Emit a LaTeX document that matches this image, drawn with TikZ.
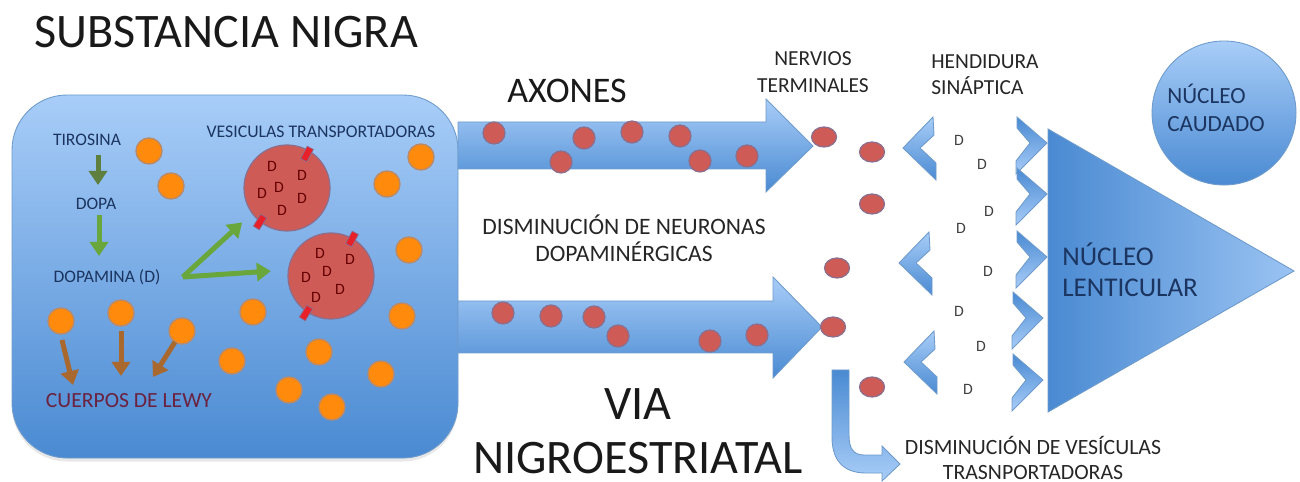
\documentclass[tikz,border=0pt]{standalone}
\usepackage{fontspec}
\setmainfont{Carlito}
\usetikzlibrary{arrows.meta,shadows,shapes.geometric}
\definecolor{bluelight}{HTML}{A8CDF8}
\definecolor{bluedark}{HTML}{4A8AD2}
\definecolor{blueline}{HTML}{6E9BCB}
\definecolor{navytext}{HTML}{1B3560}
\definecolor{dotred}{HTML}{CF5B56}
\definecolor{dotrim}{HTML}{8A6F8E}
\definecolor{dotorange}{HTML}{FF8A0C}
\definecolor{orangerim}{HTML}{B98A6A}
\definecolor{greendark}{HTML}{5F7F3F}
\definecolor{greenmid}{HTML}{69A63C}
\definecolor{brownline}{HTML}{A8682E}
\definecolor{tagred}{HTML}{E8202A}
\tikzset{
    bluefill/.style={top color=bluelight,bottom color=bluedark,draw=blueline,line width=0.5pt},
    bluefilldown/.style={top color=bluedark,bottom color=bluelight,draw=blueline,line width=0.5pt},
    orangedot/.style={circle,fill=dotorange,draw=orangerim,line width=0.8pt,minimum size=26*0.02cm,inner sep=0},
    reddot/.style={circle,fill=dotred,draw=dotrim,line width=0.7pt,minimum size=22*0.02cm,inner sep=0},
    redoval/.style={ellipse,fill=dotred,draw=dotrim,line width=0.7pt,minimum width=25*0.02cm,minimum height=20*0.02cm,inner sep=0},
    vesicle/.style={circle,fill=dotred,draw=dotrim,line width=0.7pt,minimum size=86*0.02cm,inner sep=0},
    redtag/.style={rectangle,fill=tagred,draw=dotrim,line width=0.4pt,minimum width=14*0.02cm,minimum height=7*0.02cm,inner sep=0},
    dmark/.style={font=\fontsize{9}{10}\selectfont,text=red!40!black,inner sep=0},
    dgrey/.style={font=\fontsize{9}{10}\selectfont,text=black!75,inner sep=0},
    boxlabel/.style={text=navytext,inner sep=0,align=center,font=\fontsize{10}{12}\selectfont},
    plainlabel/.style={text=black!85,inner sep=0,align=center,font=\fontsize{12.2}{15}\selectfont},
    biglabel/.style={text=black!90,inner sep=0,align=center,font=\fontsize{27.4}{30.7}\selectfont},
    greenarrow/.style={-{Triangle[width=18*0.02cm,length=14*0.02cm]},line width=5*0.02cm,draw=#1},
    brownarrow/.style={-{Triangle[width=18*0.02cm,length=14*0.02cm]},line width=5*0.02cm,draw=brownline},
    leftchev/.pic={\draw[bluefill] (0,0)--(30,-31)--(31,-13)--(17,0)--(33,15)--(33,32)--cycle;},
    rightchev/.pic={\draw[bluefilldown] (0,0)--(-30,-26)--(-30,-15)--(-17,0)--(-31,18)--(-31,31)--cycle;}
}
\begin{document}
\begin{tikzpicture}[x=0.02cm,y=-0.02cm]
    \useasboundingbox (0,0) rectangle (1300,482);

    % left panel, fibres and the receiving nuclei
    \path[bluefill,drop shadow={opacity=0.18,shadow xshift=0pt,shadow yshift=-2pt}]
        (12,150) arc[start angle=180,end angle=90,x radius=55,y radius=-55] -- (403,95)
        arc[start angle=90,end angle=0,x radius=55,y radius=-55] -- (458,403)
        arc[start angle=0,end angle=-90,x radius=55,y radius=-55] -- (67,458)
        arc[start angle=-90,end angle=-180,x radius=55,y radius=-55] -- cycle;
    \draw[bluefill] (458,122)--(766,122)--(766,99)--(813,146)--(766,192)--(766,169)--(458,169)--cycle;
    \draw[bluefill] (458,301)--(773,301)--(773,277)--(822,327)--(773,378)--(773,353)--(458,353)--cycle;
    \draw[left color=bluedark,right color=bluelight!85!bluedark,draw=blueline,line width=0.5pt] (1048,129)--(1294,271)--(1048,412)--cycle;
    \node[circle,bluefill,minimum size=144*0.02cm,inner sep=0] (caudado) at (1224,113) {};

    \begin{scope}[every node/.style={orangedot}]
        \node (o1) at (149,151) {};
        \node (o2) at (171,186) {};
        \node (o3) at (421,157) {};
        \node (o4) at (387,184) {};
        \node (o5) at (409,250) {};
        \node (o6) at (402,316) {};
        \node (o7) at (253,312) {};
        \node (o8) at (232,361) {};
        \node (o9) at (319,352) {};
        \node (o10) at (289,390) {};
        \node (o11) at (332,407) {};
        \node (o12) at (381,374) {};
        \node (lewyA) at (61,321) {};
        \node (lewyB) at (121,313) {};
        \node (lewyC) at (182,331) {};
    \end{scope}

    \node[vesicle] (ves1) at (287,188) {};
    \node[vesicle] (ves2) at (331,276) {};
    \node[redtag,rotate=62] (tag1) at (307,154) {};
    \node[redtag,rotate=58] (tag2) at (260,222) {};
    \node[redtag,rotate=62] (tag3) at (352,239) {};
    \node[redtag,rotate=58] (tag4) at (306,313) {};

    \begin{scope}[every node/.style={dmark}]
        \node (d1) at (272,166) {D};
        \node (d2) at (302,175) {D};
        \node (d3) at (262,193) {D};
        \node (d4) at (279,187) {D};
        \node (d5) at (302,198) {D};
        \node (d6) at (282,210) {D};
        \node (d7) at (320,253) {D};
        \node (d8) at (350,259) {D};
        \node (d9) at (306,277) {D};
        \node (d10) at (327,271) {D};
        \node (d11) at (340,289) {D};
        \node (d12) at (316,297) {D};
    \end{scope}

    \begin{scope}[every node/.style={reddot}]
        \node (a1) at (494,133) {};
        \node (a2) at (584,138) {};
        \node (a3) at (561,162) {};
        \node (a4) at (632,132) {};
        \node (a5) at (680,136) {};
        \node (a6) at (700,161) {};
        \node (a7) at (747,156) {};
        \node (b1) at (503,313) {};
        \node (b2) at (551,316) {};
        \node (b3) at (594,317) {};
        \node (b4) at (618,336) {};
        \node (b5) at (710,341) {};
        \node (b6) at (757,335) {};
    \end{scope}

    \begin{scope}[every node/.style={redoval}]
        \node (t1) at (824,137) {};
        \node (t2) at (872,152) {};
        \node (t3) at (872,204) {};
        \node (t4) at (837,268) {};
        \node (t5) at (833,327) {};
        \node (t6) at (872,387) {};
    \end{scope}

    % synapse
    \pic (l1) at (903,148) {leftchev};
    \pic (l2) at (899,263) {leftchev};
    \pic (l3) at (904,362) {leftchev};
    \pic (r1) at (1047,143) {rightchev};
    \pic (r2) at (1047,194) {rightchev};
    \pic (r3) at (1047,257) {rightchev};
    \pic (r4) at (1043,318) {rightchev};
    \pic (r5) at (1043,380) {rightchev};

    \begin{scope}[every node/.style={dgrey}]
        \node (s1) at (959,140) {D};
        \node (s2) at (982,164) {D};
        \node (s3) at (989,211) {D};
        \node (s4) at (961,228) {D};
        \node (s5) at (988,271) {D};
        \node (s6) at (959,311) {D};
        \node (s7) at (981,346) {D};
        \node (s8) at (968,389) {D};
    \end{scope}

    % bent arrow below the terminals
    \draw[bluefilldown] (832,370)--(849,370)--(849,435)
        .. controls (849,448) and (853,455) .. (864,455)
        --(882,455)--(882,446)--(900,464)--(882,481)--(882,473)--(866,473)
        .. controls (843,473) and (832,460) .. (832,437)--cycle;

    % labels
    \node[biglabel] (titulo) at (226,32) {SUBSTANCIA NIGRA};
    \node[biglabel,font=\fontsize{20.5}{24}\selectfont] (axones) at (567,91) {AXONES};
    \node[biglabel] (via) at (638,431) {VIA\\NIGROESTRIATAL};
    \node[plainlabel] (nervios) at (813,72) {NERVIOS\\TERMINALES};
    \node[plainlabel,align=left,anchor=west] (hendidura) at (931,75) {HENDIDURA\\SINÁPTICA};
    \node[plainlabel,font=\fontsize{13.4}{15.3}\selectfont] (neuronas) at (624,238) {DISMINUCIÓN DE NEURONAS\\DOPAMINÉRGICAS};
    \node[plainlabel,font=\fontsize{12.4}{14.5}\selectfont] (vesiculas) at (1033,458) {DISMINUCIÓN DE VESÍCULAS\\TRASNPORTADORAS};
    \node[boxlabel,align=left,anchor=west,font=\fontsize{13.2}{16}\selectfont] (caudadotxt) at (1167,108) {NÚCLEO\\CAUDADO};
    \node[boxlabel,align=left,anchor=west,font=\fontsize{15.4}{17.6}\selectfont] (lenticular) at (1062,270) {NÚCLEO\\LENTICULAR};
    \node[boxlabel] (tirosina) at (87,140) {TIROSINA};
    \node[boxlabel] (dopa) at (96,204) {DOPA};
    \node[boxlabel] (dopamina) at (107,277) {DOPAMINA (D)};
    \node[boxlabel,text=red!35!navytext,font=\fontsize{12.3}{14}\selectfont] (lewy) at (129,401) {CUERPOS DE LEWY};
    \node[boxlabel,font=\fontsize{10.1}{12}\selectfont] (transporte) at (321,132) {VESICULAS TRANSPORTADORAS};

    \coordinate (lewyEndA) at (73,385);
    \coordinate (lewyEndB) at (121,376);
    \coordinate (lewyEndC) at (153,377);
    \coordinate (tirosinaTo) at (98,155);
    \coordinate (dopaTo) at (98,185);
    \coordinate (dopaFrom) at (99,215);
    \coordinate (dopaminaTo) at (99,256);

    \draw[greenarrow=greendark] (tirosinaTo) -- (dopaTo);
    \draw[greenarrow=greenmid] (dopaFrom) -- (dopaminaTo);
    \draw[greenarrow=greenmid,shorten >=13*0.02cm] (dopamina.east)++(22,0) -- (ves1.216);
    \draw[greenarrow=greenmid,shorten >=17*0.02cm] (dopamina.east)++(22,0) -- (ves2.172);
    \draw[brownarrow] (lewyA) ++(1,19) -- (lewyEndA);
    \draw[brownarrow] (lewyB) ++(0,18) -- (lewyEndB);
    \draw[brownarrow] (lewyC) ++(-7,11) -- (lewyEndC);
\end{tikzpicture}
\end{document}
